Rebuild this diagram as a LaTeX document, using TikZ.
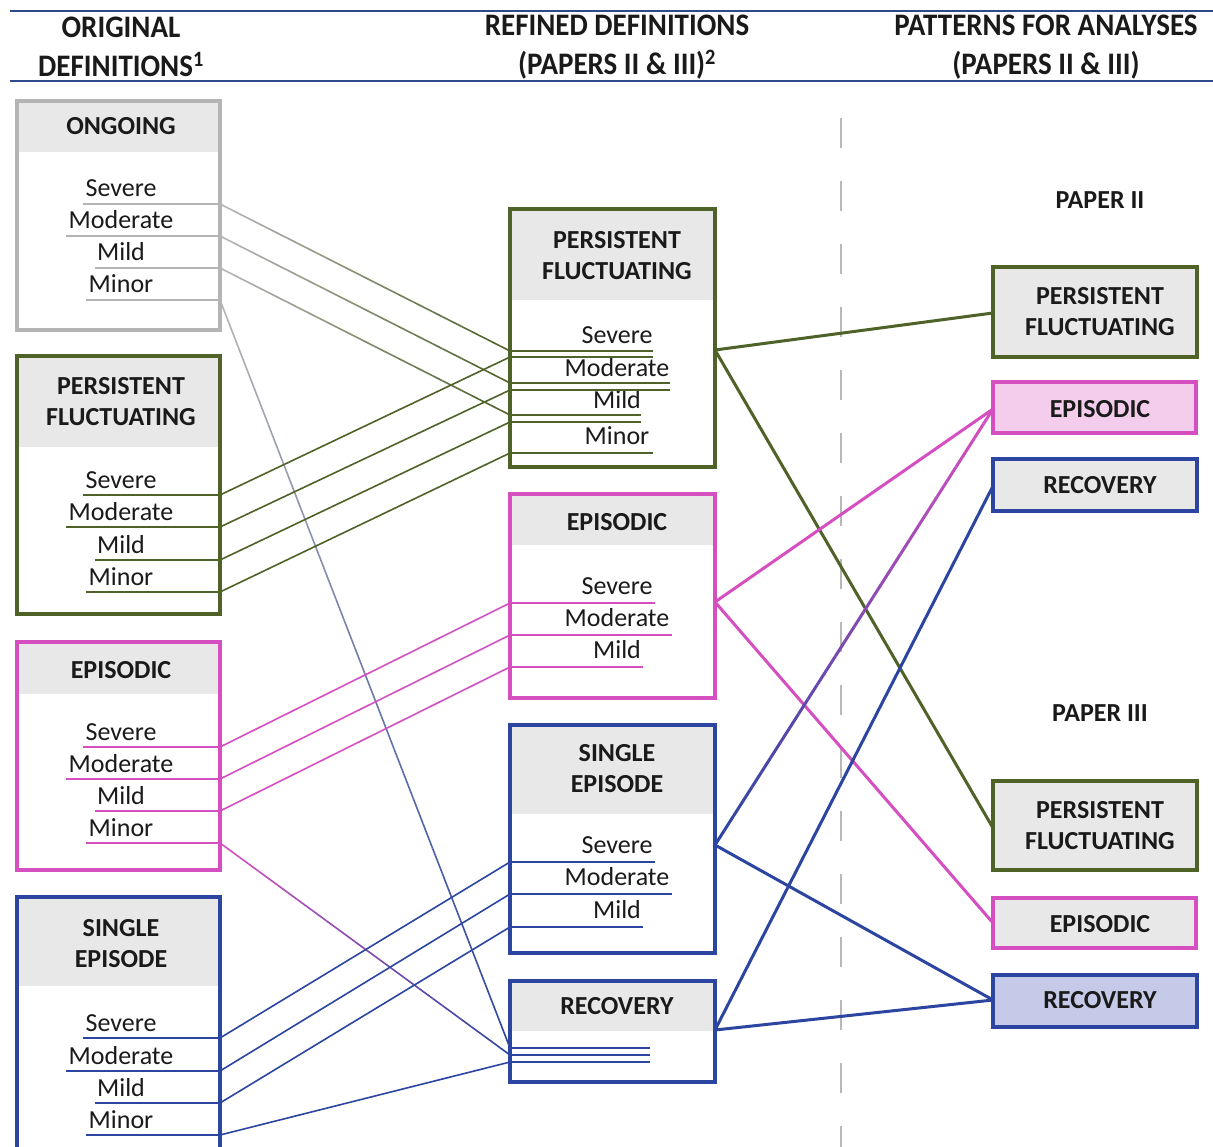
\documentclass[tikz,border=0pt]{standalone}
\usepackage{fontspec}
\setmainfont{Carlito}
\usetikzlibrary{calc}
\definecolor{cgreen}{HTML}{4F6228}
\definecolor{cpink}{HTML}{D64FC0}
\definecolor{cblue}{HTML}{2B45A0}
\definecolor{cgray}{HTML}{B4B4B4}
\definecolor{hfill}{HTML}{E8E8E8}
\definecolor{pfill}{HTML}{F3CDEB}
\definecolor{bfill}{HTML}{C4CAE8}
\definecolor{rulec}{HTML}{2F4A8A}
\definecolor{dashc}{HTML}{B8B8B8}
\definecolor{txt}{HTML}{1A1A1A}

% gradient connector: colour1, colour2, from, to, width
\newcommand\gline[5]{%
  \foreach \i in {0,...,29}{%
    \pgfmathsetmacro\pp{\i*100/29}%
    \draw[line width=#5, color={#2!\pp!#1}] ($(#3)!\i/30!(#4)$) -- ($(#3)!{(\i+1)/30}!(#4)$);
  }}
% box: name, border colour, x1, y1, x2, y2, header bottom, fill colour
\newcommand\bx[8]{%
  \fill[#8] (#3,#4) rectangle (#5,#7);
  \node[draw=#2, boxst, minimum width={(#5-#3)*1pt}, minimum height={(#6-#4)*1pt}] (#1) at ({(#3+#5)/2},{(#4+#6)/2}) {};}

\tikzset{
  boxst/.style={line width=3.2pt, inner sep=0pt, rectangle},
  lbl/.style={font=\fontsize{26}{31}\selectfont, text=txt, inner sep=0pt, anchor=base},
  ttl/.style={font=\fontsize{26}{31}\selectfont\bfseries, text=txt, inner sep=0pt, align=center},
  hd/.style={font=\fontsize{29}{36}\selectfont\bfseries, text=txt, inner sep=0pt, align=center, yscale=1.08},
  ul/.style={line width=1.8pt},
  thin/.style={line width=1.6pt},
}

\begin{document}
\begin{tikzpicture}[x=1pt,y=-1pt]
\clip (0,0) rectangle (1213,1147);
\fill[white] (0,0) rectangle (1213,1147);

% header rules and titles
\coordinate (r1a) at (10,11); \coordinate (r1b) at (1213,11);
\coordinate (r2a) at (10,81); \coordinate (r2b) at (1213,81);
\draw[rulec, line width=2.5pt] (r1a) -- (r1b);
\draw[rulec, line width=2.5pt] (r2a) -- (r2b);
\node[hd] (h1) at (121,47) {ORIGINAL\\DEFINITIONS\textsuperscript{1}};
\node[hd] (h2) at (617,47) {REFINED DEFINITIONS\\(PAPERS II \& III)\textsuperscript{2}};
\node[hd] (h3) at (1046,47) {PATTERNS FOR ANALYSES\\(PAPERS II \& III)};

% dashed separator
\coordinate (d1) at (841,118); \coordinate (d2) at (841,1147);
\draw[dashc, line width=1.2pt, dash pattern=on 30pt off 33pt] (d1) -- (d2);

% ---------------- left boxes
\bx{ong}{cgray}{17}{101}{220}{330}{152}{hfill}
\node[ttl] (ongT) at (121,126) {ONGOING};
\bx{pfl}{cgreen}{17}{356}{220}{614}{447}{hfill}
\node[ttl] (pflT) at (121,402) {PERSISTENT\\FLUCTUATING};
\bx{epl}{cpink}{17}{642}{220}{870}{694}{hfill}
\node[ttl] (eplT) at (121,670) {EPISODIC};
\bx{sel}{cblue}{17}{897}{220}{1170}{986}{hfill}
\node[ttl] (selT) at (121,944) {SINGLE\\EPISODE};

% left labels
\foreach \nm/\tx/\yy/\cc in {o1/Severe/204/cgray, o2/Moderate/236/cgray, o3/Mild/268/cgray, o4/Minor/300/cgray,
  p1/Severe/495/cgreen, p2/Moderate/527/cgreen, p3/Mild/560/cgreen, p4/Minor/592/cgreen,
  e1/Severe/747/cpink, e2/Moderate/779/cpink, e3/Mild/811/cpink, e4/Minor/843/cpink,
  s1/Severe/1038/cblue, s2/Moderate/1071/cblue, s3/Mild/1103/cblue, s4/Minor/1135/cblue}{
  \node[lbl] (\nm) at (121,\yy-7) {\tx};
  \coordinate (\nm r) at (220,\yy);
  \draw[ul, \cc] ($(\nm.west |- \nm r)+(-2,0)$) -- (\nm r);
}

% ---------------- middle boxes
\bx{pfm}{cgreen}{510}{209}{715}{467}{300}{hfill}
\node[ttl] (pfmT) at (617,256) {PERSISTENT\\FLUCTUATING};
\bx{epm}{cpink}{510}{494}{715}{698}{545}{hfill}
\node[ttl] (epmT) at (617,522) {EPISODIC};
\bx{sem}{cblue}{510}{725}{715}{953}{814}{hfill}
\node[ttl] (semT) at (617,769) {SINGLE\\EPISODE};
\bx{rem}{cblue}{510}{981}{715}{1082}{1031}{hfill}
\node[ttl] (remT) at (617,1006) {RECOVERY};

% middle labels (persistent: double lines)
\node[lbl] (m1) at (617,344) {Severe};
\node[lbl] (m2) at (617,377) {Moderate};
\node[lbl] (m3) at (617,409) {Mild};
\node[lbl] (m4) at (617,444) {Minor};
\foreach \nm/\ya/\yb in {m1/351/357, m2/383/390, m3/415/422}{
  \coordinate (\nm a) at (510,\ya); \coordinate (\nm b) at (510,\yb);
  \draw[ul, cgreen] (\nm a) -- (\nm.east |- \nm a);
  \draw[ul, cgreen] (\nm b) -- (\nm.east |- \nm b);
}
\coordinate (m4a) at (510,453);
\draw[ul, cgreen] (m4a) -- ($(m4.east |- m4a)+(3,0)$);

\foreach \nm/\tx/\yy/\cc in {q1/Severe/603/cpink, q2/Moderate/635/cpink, q3/Mild/667/cpink,
  t1/Severe/862/cblue, t2/Moderate/894/cblue, t3/Mild/927/cblue}{
  \node[lbl] (\nm) at (617,\yy-9) {\tx};
  \coordinate (\nm l) at (510,\yy);
  \draw[ul, \cc] (\nm l) -- ($(\nm.east |- \nm l)+(2,0)$);
}
\coordinate (ra) at (510,1048); \coordinate (rb) at (510,1055); \coordinate (rc) at (510,1062);
\coordinate (rae) at (650,1048); \coordinate (rbe) at (650,1055); \coordinate (rce) at (650,1062);
\draw[ul, cblue] (ra) -- (rae);
\draw[ul, cblue] (rb) -- (rbe);
\draw[ul, cblue] (rc) -- (rce);

% ---------------- right boxes
\node[font=\fontsize{26}{30}\selectfont\bfseries, text=txt] (pap2) at (1100,200) {PAPER II};
\node[font=\fontsize{26}{30}\selectfont\bfseries, text=txt] (pap3) at (1100,713) {PAPER III};
\bx{pf2}{cgreen}{993}{267}{1197}{357}{357}{hfill}
\node[ttl] (pf2T) at (1100,312) {PERSISTENT\\FLUCTUATING};
\bx{ep2}{cpink}{993}{382}{1196}{433}{433}{pfill}
\node[ttl] (ep2T) at (1100,409) {EPISODIC};
\bx{re2}{cblue}{993}{459}{1197}{511}{511}{hfill}
\node[ttl] (re2T) at (1100,485) {RECOVERY};
\bx{pf3}{cgreen}{993}{781}{1197}{870}{870}{hfill}
\node[ttl] (pf3T) at (1100,826) {PERSISTENT\\FLUCTUATING};
\bx{ep3}{cpink}{993}{898}{1196}{948}{948}{hfill}
\node[ttl] (ep3T) at (1100,924) {EPISODIC};
\bx{re3}{cblue}{993}{975}{1197}{1027}{1027}{bfill}
\node[ttl] (re3T) at (1100,1000) {RECOVERY};

% ---------------- left connectors
\gline{cgray}{cgreen}{o1r}{m1a}{1.6pt}
\gline{cgray}{cgreen}{o2r}{m2a}{1.6pt}
\gline{cgray}{cgreen}{o3r}{m3a}{1.6pt}
\gline{cgray}{cblue}{o4r}{ra}{1.6pt}
\draw[thin, cgreen] (p1r) -- (m1b);
\draw[thin, cgreen] (p2r) -- (m2b);
\draw[thin, cgreen] (p3r) -- (m3b);
\draw[thin, cgreen] (p4r) -- (m4a);
\draw[thin, cpink] (e1r) -- (q1l);
\draw[thin, cpink] (e2r) -- (q2l);
\draw[thin, cpink] (e3r) -- (q3l);
\gline{cpink}{cblue}{e4r}{rb}{1.6pt}
\draw[thin, cblue] (s1r) -- (t1l);
\draw[thin, cblue] (s2r) -- (t2l);
\draw[thin, cblue] (s3r) -- (t3l);
\draw[thin, cblue] (s4r) -- (rc);

% ---------------- right connectors
\coordinate (pfmR) at (715,350);
\coordinate (epmR) at (715,602);
\coordinate (semR) at (715,845);
\coordinate (remR) at (715,1030);
\coordinate (pf2L) at (993,313);
\coordinate (ep2L) at (993,409);
\coordinate (re2L) at (993,486);
\coordinate (pf3L) at (993,828);
\coordinate (ep3L) at (993,923);
\coordinate (re3L) at (993,1000);
\draw[cgreen, line width=3pt] (pfmR) -- (pf2L);
\draw[cgreen, line width=3pt] (pfmR) -- (pf3L);
\draw[cpink, line width=3pt] (epmR) -- (ep2L);
\draw[cpink, line width=3pt] (epmR) -- (ep3L);
\gline{cblue}{cpink}{semR}{ep2L}{3pt}
\draw[cblue, line width=3pt] (semR) -- (re3L);
\draw[cblue, line width=3pt] (remR) -- (re2L);
\draw[cblue, line width=3pt] (remR) -- (re3L);
\end{tikzpicture}
\end{document}
